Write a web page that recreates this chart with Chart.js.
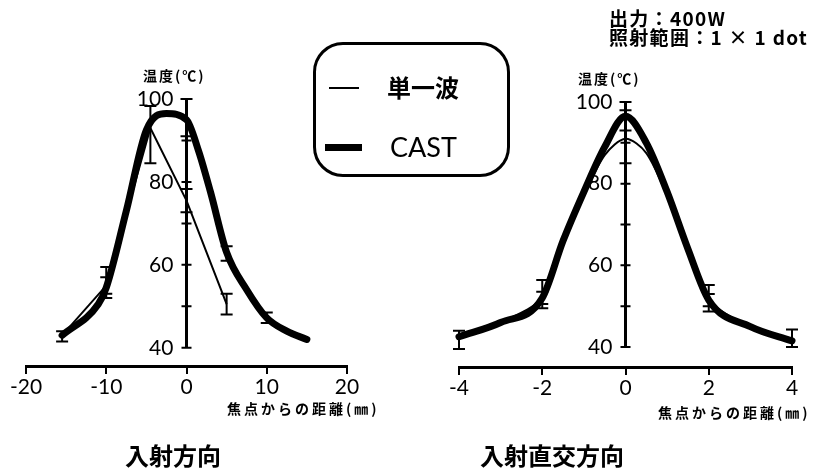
<!DOCTYPE html>
<html>
<head>
<meta charset="utf-8">
<script src="https://cdn.jsdelivr.net/npm/chart.js@4.4.1/dist/chart.umd.min.js"></script>
<style>
body{margin:0;background:#fff;width:815px;height:471px;position:relative;overflow:hidden;font-family:"Noto Sans CJK JP",sans-serif;color:#000}
canvas{position:absolute;top:0}
.t{position:absolute;white-space:nowrap;font-weight:700;line-height:1}
.legend{position:absolute;left:313px;top:42px;width:191px;height:129px;border:3px solid #000;border-radius:30px}
.sw{position:absolute;background:#000}
</style>
</head>
<body>
<canvas id="left" width="400" height="471" style="left:0"></canvas>
<canvas id="right" width="415" height="471" style="left:400px"></canvas>

<div class="legend">
  <div class="sw" style="left:13px;top:42px;width:30px;height:2px"></div>
  <div class="t" style="left:71px;top:30px;font-size:24px">単一波</div>
  <div class="sw" style="left:9px;top:99px;width:37px;height:7px"></div>
  <div class="t" style="left:74px;top:88px;font-size:27px;font-family:Lato;font-weight:400">CAST</div>
</div>

<div class="t" style="left:609px;top:8px;font-size:19px;letter-spacing:1.3px">出力：400W</div>
<div class="t" style="left:609px;top:27px;font-size:19px;letter-spacing:1.3px">照射範囲：1 × 1 dot</div>

<div class="t" style="left:143px;top:68px;font-size:14px;letter-spacing:2px">温度(℃)</div>
<div class="t" style="left:578px;top:71px;font-size:14px;letter-spacing:2px">温度(℃)</div>
<div class="t" style="left:227px;top:401px;font-size:14px;letter-spacing:3px">焦点からの距離(㎜)</div>
<div class="t" style="left:658px;top:405px;font-size:14px;letter-spacing:3px">焦点からの距離(㎜)</div>
<div class="t" style="left:125px;top:443px;font-size:24px">入射方向</div>
<div class="t" style="left:480px;top:443px;font-size:24px">入射直交方向</div>

<script>
// 入射方向 (left panel)
const leftXTicks = [-20, -10, 0, 10, 20];
const leftYTicks = [40, 60, 80, 100];
const leftSingleX  = [-15.5, -10, -4.5, 0, 5];
const leftSingleY  = [43, 55, 93, 75.5, 50.5];
const leftSingleLo = [null, 53, 84.5, 72.7, 48];
const leftSingleHi = [null, 59.5, 98.3, 78.3, 53];
const leftCastX  = [-15.5, -11, -10, -7.5, -5, -2.5, 0, 1.5, 3, 5, 7.5, 10, 12.5, 15];
const leftCastY  = [43, 50.5, 54.5, 73, 92.5, 96.5, 95, 87.5, 77.5, 63, 54, 47.2, 44, 42];
const leftCastLo = [41.5, null, 52, null, null, null, 91, null, null, 61, null, 46, null, null];
const leftCastHi = [44, null, 57, null, null, null, 100, null, null, 64.5, null, 48.5, null, null];

// 入射直交方向 (right panel)
const rightXTicks = [-4, -2, 0, 2, 4];
const rightYTicks = [40, 60, 80, 100];
const rightX = [-4, -3, -2, -1.5, -1, -0.5, 0, 0.5, 1, 1.5, 2, 3, 4];
const rightSingleY  = [42, 46, 52, 65, 77, 87, 91, 87.5, 77, 64, 51.5, 45, 42];
const rightSingleLo = [39.5, null, 49.5, null, null, null, 85, null, null, null, 48.7, null, 40];
const rightSingleHi = [44, null, 56.4, null, null, null, 98, null, null, null, 55.2, null, 44.3];
const rightCastY  = [42.5, 46, 52, 66, 78, 89, 96.5, 90, 78, 64, 51.5, 45, 41.5];
const rightCastLo = [null, null, 50.5, null, null, null, 93, null, null, null, 50, null, null];
const rightCastHi = [null, null, 53.5, null, null, null, 100, null, null, null, 53, null, null];

const yAxisFrom = 40, yAxisTo = 100, yAxisStep = 10;

const pts = (xs, ys) => xs.map((x, i) => ({x, y: ys[i]}));

const errorBars = {
  id: 'errorBars',
  afterDatasetsDraw(chart) {
    const {ctx, scales: {x, y}} = chart;
    ctx.save();
    ctx.strokeStyle = '#000';
    ctx.lineWidth = 2;
    chart.data.datasets.forEach(ds => {
      (ds.errLo || []).forEach((lo, i) => {
        if (lo == null) return;
        const px = x.getPixelForValue(ds.data[i].x);
        const y1 = y.getPixelForValue(lo), y2 = y.getPixelForValue(ds.errHi[i]);
        ctx.beginPath();
        ctx.moveTo(px, y1); ctx.lineTo(px, y2);
        ctx.moveTo(px - 6, y1); ctx.lineTo(px + 6, y1);
        ctx.moveTo(px - 6, y2); ctx.lineTo(px + 6, y2);
        ctx.stroke();
      });
    });
    ctx.restore();
  }
};

// vertical axis through x = 0, from 40 to 100 only
const yAxisLine = {
  id: 'yAxisLine',
  beforeDatasetsDraw(chart) {
    const {ctx, scales: {x, y}} = chart;
    const px = x.getPixelForValue(0);
    ctx.save();
    ctx.strokeStyle = '#000';
    ctx.lineWidth = 3;
    ctx.beginPath();
    ctx.moveTo(px, y.getPixelForValue(yAxisFrom));
    ctx.lineTo(px, y.getPixelForValue(yAxisTo));
    ctx.stroke();
    ctx.lineWidth = 2;
    ctx.beginPath();
    for (let v = yAxisFrom; v <= yAxisTo; v += yAxisStep) {
      const py = y.getPixelForValue(v);
      ctx.moveTo(px - 5, py); ctx.lineTo(px + 5, py);
    }
    ctx.stroke();
    ctx.restore();
  }
};

function makeChart(id, cfg) {
  return new Chart(document.getElementById(id), {
    type: 'line',
    data: {
      datasets: [
        {label: '単一波', data: pts(cfg.singleX, cfg.singleY), errLo: cfg.singleLo, errHi: cfg.singleHi,
         borderColor: '#000', borderWidth: 2, pointRadius: 0, tension: cfg.singleTension, clip: false},
        {label: 'CAST', data: pts(cfg.castX, cfg.castY), errLo: cfg.castLo, errHi: cfg.castHi,
         borderColor: '#000', borderWidth: 7, pointRadius: 0, cubicInterpolationMode: 'monotone',
         borderCapStyle: 'round', borderJoinStyle: 'round', clip: false}
      ]
    },
    options: {
      responsive: false,
      animation: false,
      layout: {padding: cfg.padding},
      plugins: {legend: {display: false}, tooltip: {enabled: false}},
      scales: {
        x: {
          type: 'linear', min: cfg.xTicks[0], max: cfg.xTicks[cfg.xTicks.length - 1],
          position: {y: cfg.yMin},
          afterBuildTicks: s => { s.ticks = cfg.xTicks.map(v => ({value: v})); },
          grid: {drawOnChartArea: false, drawTicks: true, tickLength: 6, color: '#000', lineWidth: 2},
          border: {display: true, color: '#000', width: 3},
          ticks: {color: '#000', font: {family: 'Lato', size: 21}, padding: 3, maxRotation: 0, autoSkip: false}
        },
        y: {
          type: 'linear', min: cfg.yMin, max: 100,
          position: {x: 0},
          afterBuildTicks: s => { s.ticks = cfg.yTicks.map(v => ({value: v})); },
          grid: {display: false},
          border: {display: false},
          // the label sits right on the axis pixel here, so pad it with trailing spaces
          ticks: {color: '#000', font: {family: 'Lato', size: 21}, autoSkip: false,
                  callback: v => v + '\u2002\u2009'}
        }
      }
    },
    plugins: [yAxisLine, errorBars]
  });
}

makeChart('left', {
  singleX: leftSingleX, singleY: leftSingleY, singleLo: leftSingleLo, singleHi: leftSingleHi, singleTension: 0,
  castX: leftCastX, castY: leftCastY, castLo: leftCastLo, castHi: leftCastHi,
  xTicks: leftXTicks, yTicks: leftYTicks, yMin: 35.6,
  padding: {left: 26, right: 53, top: 99, bottom: 105}
});

makeChart('right', {
  singleX: rightX, singleY: rightSingleY, singleLo: rightSingleLo, singleHi: rightSingleHi, singleTension: 0.3,
  castX: rightX, castY: rightCastY, castLo: rightCastLo, castHi: rightCastHi,
  xTicks: rightXTicks, yTicks: rightYTicks, yMin: 35.1,
  padding: {left: 59, right: 23, top: 102, bottom: 104}
});
</script>
</body>
</html>
